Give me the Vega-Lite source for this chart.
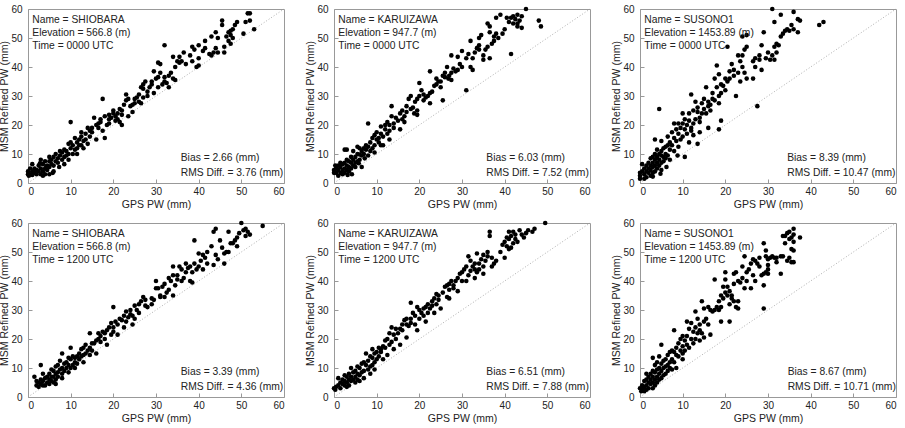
{
  "$schema": "https://vega.github.io/schema/vega-lite/v6.json",
  "padding": {"left": -1, "top": 3, "right": 0, "bottom": 0},
  "background": "white",
  "config": {
    "font": "Liberation Sans",
    "view": {"stroke": "#999", "strokeWidth": 1},
    "axis": {
      "domain": false, "grid": false,
      "tickColor": "#999", "tickSize": -4, "tickWidth": 1,
      "labelFont": "Liberation Sans", "labelFontSize": 10, "labelColor": "#222",
      "titleFont": "Liberation Sans", "titleFontSize": 10.5, "titleFontWeight": "normal", "titleColor": "#222",
      "values": [0, 10, 20, 30, 40, 50, 60]
    },
    "axisX": {"labelPadding": 7, "titlePadding": 3.5},
    "axisY": {"labelPadding": 10, "titlePadding": 1},
    "point": {"filled": true, "shape": "circle", "size": 21, "color": "black", "opacity": 1},
    "rule": {"color": "#999", "strokeWidth": 0.8, "strokeDash": [1, 2]},
    "text": {"align": "left", "baseline": "top", "lineBreak": "\n", "fontSize": 10.3, "color": "#222"}
  },
  "data": {"values": [
    {"p":1,"top":"Name = SHIOBARA\nElevation = 566.8 (m)\nTime = 0000 UTC","stat":"Bias = 2.66 (mm)\nRMS Diff. = 3.76 (mm)"},
    {"p":2,"top":"Name = KARUIZAWA\nElevation = 947.7 (m)\nTime = 0000 UTC","stat":"Bias = 6.03 (mm)\nRMS Diff. = 7.52 (mm)"},
    {"p":3,"top":"Name = SUSONO1\nElevation = 1453.89 (m)\nTime = 0000 UTC","stat":"Bias = 8.39 (mm)\nRMS Diff. = 10.47 (mm)"},
    {"p":4,"top":"Name = SHIOBARA\nElevation = 566.8 (m)\nTime = 1200 UTC","stat":"Bias = 3.39 (mm)\nRMS Diff. = 4.36 (mm)"},
    {"p":5,"top":"Name = KARUIZAWA\nElevation = 947.7 (m)\nTime = 1200 UTC","stat":"Bias = 6.51 (mm)\nRMS Diff. = 7.88 (mm)"},
    {"p":6,"top":"Name = SUSONO1\nElevation = 1453.89 (m)\nTime = 1200 UTC","stat":"Bias = 8.67 (mm)\nRMS Diff. = 10.71 (mm)"},

    {"p":1,"g":52,"m":58.5},{"p":1,"g":51.5,"m":58.5},{"p":1,"g":52,"m":56},{"p":1,"g":51,"m":55.5},{"p":1,"g":53,"m":53},{"p":1,"g":50.5,"m":51.5},{"p":1,"g":49,"m":55.5},{"p":1,"g":48.5,"m":54.5},{"p":1,"g":48,"m":53},{"p":1,"g":47.5,"m":52.5},{"p":1,"g":47,"m":52},{"p":1,"g":47.5,"m":51},{"p":1,"g":48,"m":50},{"p":1,"g":47,"m":49},{"p":1,"g":47.5,"m":48},{"p":1,"g":46.5,"m":50.5},{"p":1,"g":46,"m":47},{"p":1,"g":46,"m":45},{"p":1,"g":45.5,"m":56},{"p":1,"g":45.5,"m":54.5},{"p":1,"g":44,"m":52},{"p":1,"g":44.5,"m":50},{"p":1,"g":43,"m":50.5},{"p":1,"g":44,"m":46.5},{"p":1,"g":43.5,"m":45},{"p":1,"g":44.5,"m":45},{"p":1,"g":42.5,"m":44.5},{"p":1,"g":43,"m":44},{"p":1,"g":41.5,"m":49},{"p":1,"g":41,"m":45.5},{"p":1,"g":41.5,"m":46.5},{"p":1,"g":40,"m":47.5},{"p":1,"g":40,"m":43},{"p":1,"g":40,"m":40.5},{"p":1,"g":39.5,"m":40},{"p":1,"g":38.5,"m":42},{"p":1,"g":38,"m":44},{"p":1,"g":38.5,"m":47},{"p":1,"g":39,"m":46},{"p":1,"g":36.5,"m":45},{"p":1,"g":35.5,"m":43.5},{"p":1,"g":35.5,"m":41.5},{"p":1,"g":35,"m":42},{"p":1,"g":34,"m":43.5},{"p":1,"g":34.5,"m":40},{"p":1,"g":34,"m":36},{"p":1,"g":34.5,"m":35.5},{"p":1,"g":33,"m":37},{"p":1,"g":33,"m":33},{"p":1,"g":32,"m":47.5},{"p":1,"g":32,"m":36.5},{"p":1,"g":32,"m":35},{"p":1,"g":31,"m":41},{"p":1,"g":30.5,"m":41.5},{"p":1,"g":31,"m":38},{"p":1,"g":30.5,"m":36.5},{"p":1,"g":30,"m":36},{"p":1,"g":30.5,"m":33},{"p":1,"g":29.5,"m":38.5},{"p":1,"g":29,"m":35},{"p":1,"g":29,"m":34},{"p":1,"g":28.5,"m":33},{"p":1,"g":28,"m":31.5},{"p":1,"g":27.5,"m":35},{"p":1,"g":27,"m":34},{"p":1,"g":27,"m":32.5},{"p":1,"g":27,"m":29.5},{"p":1,"g":26.5,"m":33},{"p":1,"g":26,"m":30.5},{"p":1,"g":26,"m":28},{"p":1,"g":25.5,"m":29.5},{"p":1,"g":25,"m":29},{"p":1,"g":25,"m":27.5},{"p":1,"g":24.5,"m":27},{"p":1,"g":24,"m":26.5},{"p":1,"g":23,"m":30.5},{"p":1,"g":23.5,"m":29},{"p":1,"g":23,"m":28.5},{"p":1,"g":22.5,"m":27},{"p":1,"g":22,"m":25},{"p":1,"g":22,"m":23.5},{"p":1,"g":21.5,"m":25.5},{"p":1,"g":21,"m":24},{"p":1,"g":21,"m":22},{"p":1,"g":20.5,"m":23},{"p":1,"g":20,"m":25},{"p":1,"g":20.5,"m":21.5},{"p":1,"g":20,"m":24},{"p":1,"g":19.5,"m":22.5},{"p":1,"g":19,"m":23.5},{"p":1,"g":19,"m":22},{"p":1,"g":18.5,"m":20},{"p":1,"g":18,"m":23},{"p":1,"g":17.5,"m":29},{"p":1,"g":17,"m":21},{"p":1,"g":17,"m":22},{"p":1,"g":16.5,"m":20.5},{"p":1,"g":16,"m":20},{"p":1,"g":16.5,"m":19},{"p":1,"g":15.5,"m":22.5},{"p":1,"g":15,"m":19},{"p":1,"g":15,"m":17.5},{"p":1,"g":14.5,"m":18},{"p":1,"g":14.5,"m":16},{"p":1,"g":14,"m":19},{"p":1,"g":13.5,"m":15},{"p":1,"g":13.5,"m":17},{"p":1,"g":13,"m":14.5},{"p":1,"g":12.5,"m":17.5},{"p":1,"g":12.5,"m":16},{"p":1,"g":12.5,"m":13},{"p":1,"g":12,"m":15},{"p":1,"g":12,"m":13},{"p":1,"g":11.5,"m":14},{"p":1,"g":11.5,"m":12},{"p":1,"g":11,"m":11.5},{"p":1,"g":11,"m":15.5},{"p":1,"g":10.5,"m":13},{"p":1,"g":10,"m":21},{"p":1,"g":10,"m":14},{"p":1,"g":10,"m":12},{"p":1,"g":9.5,"m":10},{"p":1,"g":9.5,"m":13.5},{"p":1,"g":9,"m":11},{"p":1,"g":9,"m":9.5},{"p":1,"g":8.5,"m":11.5},{"p":1,"g":8.5,"m":9},{"p":1,"g":8,"m":10.5},{"p":1,"g":8,"m":8},{"p":1,"g":7.5,"m":11},{"p":1,"g":7.5,"m":9.5},{"p":1,"g":7,"m":8.5},{"p":1,"g":7,"m":7},{"p":1,"g":6.5,"m":10},{"p":1,"g":6.5,"m":7.5},{"p":1,"g":6,"m":9},{"p":1,"g":6,"m":6},{"p":1,"g":6,"m":4},{"p":1,"g":5.5,"m":8},{"p":1,"g":5.5,"m":6.5},{"p":1,"g":5,"m":7.5},{"p":1,"g":5,"m":5.5},{"p":1,"g":5,"m":9},{"p":1,"g":4.5,"m":6},{"p":1,"g":4.5,"m":4.5},{"p":1,"g":4,"m":7.5},{"p":1,"g":4,"m":5},{"p":1,"g":4,"m":3},{"p":1,"g":3.5,"m":6.5},{"p":1,"g":3.5,"m":4},{"p":1,"g":3,"m":5},{"p":1,"g":3,"m":3},{"p":1,"g":3,"m":8},{"p":1,"g":2.5,"m":6},{"p":1,"g":2.5,"m":4},{"p":1,"g":2,"m":4.5},{"p":1,"g":2,"m":3},{"p":1,"g":1.5,"m":5},{"p":1,"g":1.5,"m":3.5},{"p":1,"g":1,"m":6.5},{"p":1,"g":1,"m":4},{"p":1,"g":0.5,"m":5},{"p":1,"g":0.5,"m":3},{"p":1,"g":0,"m":4},{"p":1,"g":0,"m":3},{"p":1,"g":0.2,"m":2.5},{"p":1,"g":1,"m":2.8},{"p":1,"g":3.5,"m":2.5},{"p":1,"g":5,"m":3},{"p":1,"g":5.8,"m":3.5},{"p":1,"g":22,"m":20},{"p":1,"g":18,"m":15.5},{"p":1,"g":26.5,"m":27.5},{"p":1,"g":33.5,"m":38},{"p":1,"g":36,"m":42},{"p":1,"g":37,"m":41},{"p":1,"g":10.5,"m":10},{"p":1,"g":13,"m":12},{"p":1,"g":14,"m":13.5},{"p":1,"g":16,"m":15},{"p":1,"g":17.5,"m":18},{"p":1,"g":19,"m":20.5},{"p":1,"g":21.5,"m":21},{"p":1,"g":23.5,"m":23},{"p":1,"g":24.5,"m":24.5},{"p":1,"g":28,"m":30},{"p":1,"g":29.5,"m":31},{"p":1,"g":31.5,"m":34},{"p":1,"g":32.5,"m":34.5},{"p":1,"g":7.3,"m":5.5},{"p":1,"g":8.5,"m":6.5},{"p":1,"g":9.5,"m":8},{"p":1,"g":11.5,"m":10},{"p":1,"g":4.3,"m":5.8},{"p":1,"g":2.8,"m":6.8},{"p":1,"g":1.8,"m":4.5},

    {"p":2,"g":45,"m":60},{"p":2,"g":43,"m":58},{"p":2,"g":42,"m":57.5},{"p":2,"g":42.5,"m":56.5},{"p":2,"g":44,"m":57.5},{"p":2,"g":41.5,"m":57},{"p":2,"g":40.5,"m":57},{"p":2,"g":41,"m":55.5},{"p":2,"g":42,"m":55},{"p":2,"g":43,"m":55},{"p":2,"g":43.5,"m":56},{"p":2,"g":43,"m":54},{"p":2,"g":44,"m":53.5},{"p":2,"g":48,"m":56},{"p":2,"g":48.5,"m":54},{"p":2,"g":41.5,"m":44.5},{"p":2,"g":39,"m":58},{"p":2,"g":38,"m":57},{"p":2,"g":40,"m":53},{"p":2,"g":39.5,"m":51.5},{"p":2,"g":38.5,"m":50},{"p":2,"g":38,"m":51.5},{"p":2,"g":37.5,"m":49},{"p":2,"g":37,"m":48},{"p":2,"g":36.5,"m":52},{"p":2,"g":36.5,"m":54},{"p":2,"g":36,"m":55},{"p":2,"g":36,"m":47},{"p":2,"g":35.5,"m":46},{"p":2,"g":35,"m":44},{"p":2,"g":35,"m":42.5},{"p":2,"g":34.5,"m":51},{"p":2,"g":34,"m":50},{"p":2,"g":34,"m":47.5},{"p":2,"g":33.5,"m":46.5},{"p":2,"g":33,"m":45},{"p":2,"g":32.5,"m":43},{"p":2,"g":32.5,"m":39},{"p":2,"g":32,"m":40},{"p":2,"g":32,"m":49},{"p":2,"g":31.5,"m":44.5},{"p":2,"g":31,"m":43},{"p":2,"g":31,"m":32},{"p":2,"g":30,"m":45.5},{"p":2,"g":30,"m":40},{"p":2,"g":29.5,"m":41},{"p":2,"g":29,"m":43.5},{"p":2,"g":29,"m":39},{"p":2,"g":28.5,"m":38.5},{"p":2,"g":28,"m":39.5},{"p":2,"g":27.5,"m":44},{"p":2,"g":27.5,"m":38},{"p":2,"g":27,"m":37},{"p":2,"g":26.5,"m":40},{"p":2,"g":26,"m":36.5},{"p":2,"g":26,"m":38},{"p":2,"g":25.5,"m":37},{"p":2,"g":25,"m":35},{"p":2,"g":25,"m":33},{"p":2,"g":24.5,"m":35},{"p":2,"g":24,"m":36},{"p":2,"g":24,"m":34},{"p":2,"g":23.5,"m":33.5},{"p":2,"g":23,"m":31.5},{"p":2,"g":22.5,"m":38.5},{"p":2,"g":22.5,"m":31},{"p":2,"g":22,"m":30},{"p":2,"g":21.5,"m":29.5},{"p":2,"g":21,"m":30.5},{"p":2,"g":21,"m":28.5},{"p":2,"g":20.5,"m":32},{"p":2,"g":20,"m":34.5},{"p":2,"g":20,"m":30},{"p":2,"g":19.5,"m":23.5},{"p":2,"g":19.5,"m":29},{"p":2,"g":19,"m":28},{"p":2,"g":18.5,"m":26},{"p":2,"g":18,"m":25.5},{"p":2,"g":18,"m":30},{"p":2,"g":17.5,"m":29},{"p":2,"g":17,"m":24.5},{"p":2,"g":17,"m":26.5},{"p":2,"g":16.5,"m":23},{"p":2,"g":16,"m":25},{"p":2,"g":16,"m":22},{"p":2,"g":15.5,"m":24},{"p":2,"g":15,"m":21.5},{"p":2,"g":14.5,"m":22.5},{"p":2,"g":14,"m":20.5},{"p":2,"g":14,"m":19},{"p":2,"g":13.5,"m":26.5},{"p":2,"g":13.5,"m":23},{"p":2,"g":13,"m":20},{"p":2,"g":13,"m":18},{"p":2,"g":12.5,"m":21},{"p":2,"g":12.5,"m":17},{"p":2,"g":12,"m":20},{"p":2,"g":12,"m":18.5},{"p":2,"g":11.5,"m":16},{"p":2,"g":11.5,"m":13},{"p":2,"g":11,"m":19.5},{"p":2,"g":11,"m":17},{"p":2,"g":10.5,"m":15.5},{"p":2,"g":10.5,"m":14},{"p":2,"g":10,"m":15},{"p":2,"g":10,"m":17.5},{"p":2,"g":9.5,"m":16.5},{"p":2,"g":9.5,"m":13},{"p":2,"g":9,"m":15.5},{"p":2,"g":9,"m":12},{"p":2,"g":8.5,"m":14},{"p":2,"g":8.5,"m":11},{"p":2,"g":8,"m":20.5},{"p":2,"g":8,"m":12.5},{"p":2,"g":7.5,"m":13},{"p":2,"g":7.5,"m":11.5},{"p":2,"g":7,"m":10},{"p":2,"g":7,"m":12},{"p":2,"g":6.5,"m":9.5},{"p":2,"g":6.5,"m":11},{"p":2,"g":6,"m":12},{"p":2,"g":6,"m":8},{"p":2,"g":5.5,"m":12.5},{"p":2,"g":5.5,"m":10},{"p":2,"g":5.5,"m":7.5},{"p":2,"g":5,"m":9},{"p":2,"g":5,"m":7},{"p":2,"g":5,"m":5.5},{"p":2,"g":4.5,"m":11},{"p":2,"g":4.5,"m":8},{"p":2,"g":4.5,"m":6},{"p":2,"g":4,"m":9},{"p":2,"g":4,"m":7},{"p":2,"g":4,"m":5},{"p":2,"g":3.5,"m":7.5},{"p":2,"g":3.5,"m":5.5},{"p":2,"g":3.5,"m":4},{"p":2,"g":3,"m":11.5},{"p":2,"g":3,"m":8},{"p":2,"g":3,"m":6},{"p":2,"g":3,"m":4.5},{"p":2,"g":2.5,"m":11.5},{"p":2,"g":2.5,"m":7},{"p":2,"g":2.5,"m":5},{"p":2,"g":2.5,"m":3.5},{"p":2,"g":2,"m":6.5},{"p":2,"g":2,"m":4.5},{"p":2,"g":2,"m":3},{"p":2,"g":1.5,"m":7},{"p":2,"g":1.5,"m":5.5},{"p":2,"g":1.5,"m":3.5},{"p":2,"g":1,"m":6},{"p":2,"g":1,"m":4.5},{"p":2,"g":1,"m":2.5},{"p":2,"g":0.5,"m":5},{"p":2,"g":0.5,"m":3.5},{"p":2,"g":0,"m":4.5},{"p":2,"g":0,"m":3.5},{"p":2,"g":0.3,"m":6},{"p":2,"g":6.5,"m":5.5},{"p":2,"g":5.8,"m":6.8},{"p":2,"g":4.2,"m":3},{"p":2,"g":3.2,"m":2.8},{"p":2,"g":19.5,"m":25},{"p":2,"g":25.5,"m":28.5},{"p":2,"g":36.5,"m":43},{"p":2,"g":15.5,"m":18.5},{"p":2,"g":13,"m":15},{"p":2,"g":11,"m":13},{"p":2,"g":9.5,"m":10.5},{"p":2,"g":8,"m":9.5},{"p":2,"g":22.5,"m":27.5},{"p":2,"g":27.5,"m":35.5},{"p":2,"g":34,"m":46},{"p":2,"g":37.5,"m":50.5},{"p":2,"g":26.8,"m":36},{"p":2,"g":18.8,"m":24},{"p":2,"g":16.5,"m":21},{"p":2,"g":7.2,"m":8.5},{"p":2,"g":6,"m":9.8},

    {"p":3,"g":31,"m":60},{"p":3,"g":36,"m":59},{"p":3,"g":33,"m":58},{"p":3,"g":37,"m":56.5},{"p":3,"g":37.5,"m":56},{"p":3,"g":31.5,"m":55.5},{"p":3,"g":35.5,"m":54.5},{"p":3,"g":34.5,"m":53},{"p":3,"g":35,"m":52.5},{"p":3,"g":36,"m":53},{"p":3,"g":34,"m":52.5},{"p":3,"g":37,"m":52},{"p":3,"g":33.5,"m":51.5},{"p":3,"g":33,"m":50.5},{"p":3,"g":42,"m":54.5},{"p":3,"g":43,"m":55.5},{"p":3,"g":32,"m":48},{"p":3,"g":32.5,"m":47.5},{"p":3,"g":31.5,"m":47},{"p":3,"g":32,"m":45},{"p":3,"g":31,"m":44},{"p":3,"g":30,"m":45},{"p":3,"g":29,"m":52},{"p":3,"g":28.5,"m":47.5},{"p":3,"g":29.5,"m":43},{"p":3,"g":28,"m":44},{"p":3,"g":27,"m":43},{"p":3,"g":26.5,"m":42},{"p":3,"g":28,"m":42.5},{"p":3,"g":30.5,"m":42.5},{"p":3,"g":27,"m":40},{"p":3,"g":27.5,"m":26.5},{"p":3,"g":25,"m":51},{"p":3,"g":24,"m":50.5},{"p":3,"g":25,"m":47},{"p":3,"g":24.5,"m":46},{"p":3,"g":24,"m":44},{"p":3,"g":23.5,"m":42},{"p":3,"g":24,"m":40},{"p":3,"g":24.5,"m":38},{"p":3,"g":25,"m":36},{"p":3,"g":23,"m":44},{"p":3,"g":23.5,"m":35},{"p":3,"g":23,"m":38},{"p":3,"g":22,"m":37},{"p":3,"g":22,"m":39},{"p":3,"g":21.5,"m":41},{"p":3,"g":20.5,"m":47},{"p":3,"g":21,"m":36},{"p":3,"g":21,"m":38.5},{"p":3,"g":20.5,"m":35},{"p":3,"g":20,"m":36},{"p":3,"g":20,"m":32},{"p":3,"g":19.5,"m":33.5},{"p":3,"g":19,"m":34},{"p":3,"g":19,"m":31},{"p":3,"g":18.5,"m":37.5},{"p":3,"g":18.5,"m":30},{"p":3,"g":18,"m":40.5},{"p":3,"g":18,"m":33},{"p":3,"g":17.5,"m":36},{"p":3,"g":17.5,"m":28.5},{"p":3,"g":18.5,"m":27.5},{"p":3,"g":17,"m":31},{"p":3,"g":17,"m":29},{"p":3,"g":16.5,"m":27},{"p":3,"g":16.5,"m":25},{"p":3,"g":16,"m":28},{"p":3,"g":16,"m":26.5},{"p":3,"g":15.5,"m":24},{"p":3,"g":15.5,"m":33},{"p":3,"g":15,"m":29},{"p":3,"g":15,"m":25.5},{"p":3,"g":14.5,"m":24},{"p":3,"g":14.5,"m":27.5},{"p":3,"g":14,"m":22.5},{"p":3,"g":14,"m":21},{"p":3,"g":13.5,"m":26},{"p":3,"g":13.5,"m":24.5},{"p":3,"g":13,"m":28},{"p":3,"g":13,"m":22},{"p":3,"g":12.5,"m":25},{"p":3,"g":12.5,"m":20.5},{"p":3,"g":12,"m":30.5},{"p":3,"g":12,"m":19},{"p":3,"g":12,"m":18},{"p":3,"g":11.5,"m":21.5},{"p":3,"g":11.5,"m":24},{"p":3,"g":11,"m":20},{"p":3,"g":11,"m":17},{"p":3,"g":10.5,"m":22},{"p":3,"g":10.5,"m":18.5},{"p":3,"g":10,"m":24},{"p":3,"g":10,"m":20.5},{"p":3,"g":10,"m":16},{"p":3,"g":9.5,"m":19},{"p":3,"g":9.5,"m":15},{"p":3,"g":9,"m":20.5},{"p":3,"g":9,"m":17},{"p":3,"g":9,"m":12.5},{"p":3,"g":8.5,"m":18.5},{"p":3,"g":8.5,"m":14.5},{"p":3,"g":8,"m":20.5},{"p":3,"g":8,"m":15.5},{"p":3,"g":8,"m":11},{"p":3,"g":7.5,"m":17.5},{"p":3,"g":7.5,"m":13},{"p":3,"g":7,"m":14},{"p":3,"g":7,"m":11.5},{"p":3,"g":7,"m":8},{"p":3,"g":6.5,"m":16},{"p":3,"g":6.5,"m":13},{"p":3,"g":6.5,"m":9.5},{"p":3,"g":6,"m":12.5},{"p":3,"g":6,"m":10},{"p":3,"g":6,"m":8.5},{"p":3,"g":5.5,"m":12},{"p":3,"g":5.5,"m":9},{"p":3,"g":5.5,"m":7.5},{"p":3,"g":5,"m":14.5},{"p":3,"g":5,"m":11},{"p":3,"g":5,"m":9.5},{"p":3,"g":5,"m":7},{"p":3,"g":5,"m":4.5},{"p":3,"g":4.5,"m":25.5},{"p":3,"g":4.5,"m":10},{"p":3,"g":4.5,"m":8},{"p":3,"g":4.5,"m":6},{"p":3,"g":4,"m":11.5},{"p":3,"g":4,"m":9},{"p":3,"g":4,"m":7},{"p":3,"g":4,"m":5},{"p":3,"g":3.5,"m":15},{"p":3,"g":3.5,"m":10},{"p":3,"g":3.5,"m":8},{"p":3,"g":3.5,"m":6},{"p":3,"g":3.5,"m":4},{"p":3,"g":3,"m":9},{"p":3,"g":3,"m":7},{"p":3,"g":3,"m":5.5},{"p":3,"g":3,"m":3.5},{"p":3,"g":2.5,"m":8.5},{"p":3,"g":2.5,"m":6},{"p":3,"g":2.5,"m":4.5},{"p":3,"g":2.5,"m":2.5},{"p":3,"g":2,"m":7},{"p":3,"g":2,"m":5},{"p":3,"g":2,"m":3.5},{"p":3,"g":1.5,"m":6},{"p":3,"g":1.5,"m":4},{"p":3,"g":1.5,"m":2},{"p":3,"g":1,"m":5},{"p":3,"g":1,"m":3},{"p":3,"g":1,"m":1.5},{"p":3,"g":0.5,"m":6.5},{"p":3,"g":0.5,"m":4},{"p":3,"g":0,"m":3.5},{"p":3,"g":0,"m":2.5},{"p":3,"g":0,"m":1.5},{"p":3,"g":10.5,"m":9},{"p":3,"g":18.5,"m":18.5},{"p":3,"g":11.5,"m":14},{"p":3,"g":13.5,"m":13.5},{"p":3,"g":8.8,"m":9.5},{"p":3,"g":6.2,"m":5.5},{"p":3,"g":4.8,"m":3.2},{"p":3,"g":3,"m":2.2},{"p":3,"g":16,"m":19},{"p":3,"g":19,"m":21.5},{"p":3,"g":22.5,"m":30},{"p":3,"g":26.5,"m":36},{"p":3,"g":28.5,"m":39},{"p":3,"g":31.5,"m":42.5},{"p":3,"g":14,"m":17.5},{"p":3,"g":12.5,"m":16.5},

    {"p":4,"g":50,"m":60},{"p":4,"g":51,"m":58},{"p":4,"g":50.5,"m":57.5},{"p":4,"g":51.5,"m":57},{"p":4,"g":52,"m":56},{"p":4,"g":51,"m":55.5},{"p":4,"g":55,"m":59},{"p":4,"g":49.5,"m":56.5},{"p":4,"g":49,"m":55},{"p":4,"g":48.5,"m":54},{"p":4,"g":48,"m":53},{"p":4,"g":49,"m":52},{"p":4,"g":47,"m":57},{"p":4,"g":47.5,"m":53},{"p":4,"g":47,"m":50},{"p":4,"g":46.5,"m":50},{"p":4,"g":46,"m":49.5},{"p":4,"g":45.5,"m":51.5},{"p":4,"g":46,"m":46},{"p":4,"g":44,"m":58},{"p":4,"g":43.5,"m":57},{"p":4,"g":43,"m":52},{"p":4,"g":44,"m":49},{"p":4,"g":44.5,"m":47.5},{"p":4,"g":45,"m":54},{"p":4,"g":42,"m":50},{"p":4,"g":42,"m":46},{"p":4,"g":41.5,"m":48},{"p":4,"g":41,"m":49},{"p":4,"g":40.5,"m":47},{"p":4,"g":40,"m":49.5},{"p":4,"g":40,"m":45},{"p":4,"g":39.5,"m":44},{"p":4,"g":39,"m":46},{"p":4,"g":39,"m":54},{"p":4,"g":38.5,"m":43},{"p":4,"g":38,"m":45},{"p":4,"g":38,"m":40},{"p":4,"g":37.5,"m":44.5},{"p":4,"g":37,"m":46},{"p":4,"g":37,"m":43},{"p":4,"g":36.5,"m":41},{"p":4,"g":36,"m":44},{"p":4,"g":35.5,"m":45},{"p":4,"g":35,"m":42},{"p":4,"g":35,"m":40.5},{"p":4,"g":34.5,"m":38.5},{"p":4,"g":34,"m":45},{"p":4,"g":34,"m":42},{"p":4,"g":34,"m":35},{"p":4,"g":33.5,"m":40},{"p":4,"g":33,"m":37},{"p":4,"g":33,"m":41},{"p":4,"g":32.5,"m":36},{"p":4,"g":32,"m":39},{"p":4,"g":32,"m":34.5},{"p":4,"g":31.5,"m":38},{"p":4,"g":31,"m":35},{"p":4,"g":30.5,"m":37.5},{"p":4,"g":30,"m":40},{"p":4,"g":30,"m":37.5},{"p":4,"g":29.5,"m":33.5},{"p":4,"g":29,"m":34},{"p":4,"g":28,"m":31},{"p":4,"g":27.5,"m":33.5},{"p":4,"g":27,"m":34.5},{"p":4,"g":26.5,"m":33},{"p":4,"g":26,"m":32},{"p":4,"g":26,"m":29},{"p":4,"g":25.5,"m":30},{"p":4,"g":25,"m":31.5},{"p":4,"g":24.5,"m":28},{"p":4,"g":24.5,"m":25},{"p":4,"g":24,"m":28.5},{"p":4,"g":24,"m":30},{"p":4,"g":23.5,"m":27.5},{"p":4,"g":23,"m":29.5},{"p":4,"g":23,"m":26},{"p":4,"g":22.5,"m":28},{"p":4,"g":22,"m":26.5},{"p":4,"g":21.5,"m":27},{"p":4,"g":21,"m":25},{"p":4,"g":20.5,"m":26},{"p":4,"g":20,"m":31},{"p":4,"g":20,"m":24},{"p":4,"g":20,"m":22.5},{"p":4,"g":19.5,"m":25.5},{"p":4,"g":19.5,"m":21.5},{"p":4,"g":19,"m":24},{"p":4,"g":18.5,"m":23},{"p":4,"g":18,"m":22},{"p":4,"g":18,"m":20},{"p":4,"g":17.5,"m":22.5},{"p":4,"g":17,"m":21},{"p":4,"g":17,"m":19},{"p":4,"g":16.5,"m":22},{"p":4,"g":16.5,"m":20},{"p":4,"g":16,"m":19.5},{"p":4,"g":15.5,"m":18.5},{"p":4,"g":15,"m":18.5},{"p":4,"g":15,"m":16},{"p":4,"g":14.5,"m":22},{"p":4,"g":14.5,"m":17},{"p":4,"g":14,"m":16},{"p":4,"g":13.5,"m":18},{"p":4,"g":13.5,"m":15},{"p":4,"g":13,"m":17},{"p":4,"g":13,"m":14.5},{"p":4,"g":12.5,"m":16.5},{"p":4,"g":12.5,"m":14},{"p":4,"g":12,"m":13},{"p":4,"g":12,"m":15},{"p":4,"g":11.5,"m":14},{"p":4,"g":11.5,"m":11.5},{"p":4,"g":11,"m":13.5},{"p":4,"g":11,"m":12},{"p":4,"g":10.5,"m":14},{"p":4,"g":10.5,"m":11},{"p":4,"g":10,"m":17},{"p":4,"g":10,"m":13},{"p":4,"g":10,"m":10},{"p":4,"g":9.5,"m":13.5},{"p":4,"g":9.5,"m":11},{"p":4,"g":9,"m":12},{"p":4,"g":9,"m":10},{"p":4,"g":8.5,"m":11.5},{"p":4,"g":8.5,"m":9},{"p":4,"g":8,"m":15},{"p":4,"g":8,"m":10},{"p":4,"g":8,"m":8},{"p":4,"g":7.5,"m":12.5},{"p":4,"g":7.5,"m":9.5},{"p":4,"g":7,"m":11},{"p":4,"g":7,"m":8.5},{"p":4,"g":7,"m":7},{"p":4,"g":6.5,"m":10.5},{"p":4,"g":6.5,"m":8},{"p":4,"g":6.5,"m":6},{"p":4,"g":6,"m":9},{"p":4,"g":6,"m":7},{"p":4,"g":6,"m":5},{"p":4,"g":5.5,"m":9.5},{"p":4,"g":5.5,"m":7},{"p":4,"g":5.5,"m":5.5},{"p":4,"g":5,"m":8},{"p":4,"g":5,"m":6},{"p":4,"g":5,"m":4.5},{"p":4,"g":4.5,"m":7},{"p":4,"g":4.5,"m":5},{"p":4,"g":4,"m":6.5},{"p":4,"g":4,"m":4},{"p":4,"g":3.5,"m":8},{"p":4,"g":3.5,"m":5.5},{"p":4,"g":3.5,"m":4},{"p":4,"g":3,"m":11},{"p":4,"g":3,"m":6},{"p":4,"g":3,"m":4.5},{"p":4,"g":2.5,"m":5},{"p":4,"g":2.5,"m":3.5},{"p":4,"g":2,"m":4},{"p":4,"g":1.5,"m":7},{"p":4,"g":2,"m":5.5},{"p":4,"g":6.5,"m":4.5},{"p":4,"g":8,"m":6.5},{"p":4,"g":9.5,"m":8.5},{"p":4,"g":11,"m":10},{"p":4,"g":13,"m":12},{"p":4,"g":14.5,"m":14.5},{"p":4,"g":16,"m":15},{"p":4,"g":18.5,"m":18},{"p":4,"g":21,"m":21.5},{"p":4,"g":22.5,"m":24},{"p":4,"g":25,"m":27},{"p":4,"g":27.5,"m":31.5},{"p":4,"g":29,"m":32},{"p":4,"g":31,"m":34.5},{"p":4,"g":36,"m":40},{"p":4,"g":41,"m":44},{"p":4,"g":43.5,"m":45.5},{"p":4,"g":38.5,"m":39.5},

    {"p":5,"g":49.5,"m":60},{"p":5,"g":47,"m":58},{"p":5,"g":46.5,"m":57},{"p":5,"g":45.5,"m":57.5},{"p":5,"g":45,"m":56.5},{"p":5,"g":44,"m":56},{"p":5,"g":43.5,"m":57.5},{"p":5,"g":42.5,"m":56},{"p":5,"g":42,"m":57},{"p":5,"g":41.5,"m":55.5},{"p":5,"g":41,"m":57},{"p":5,"g":41,"m":54.5},{"p":5,"g":40.5,"m":55},{"p":5,"g":40,"m":53.5},{"p":5,"g":40.5,"m":52},{"p":5,"g":41,"m":51},{"p":5,"g":39.5,"m":52.5},{"p":5,"g":42,"m":53},{"p":5,"g":42.5,"m":54.5},{"p":5,"g":43,"m":53.5},{"p":5,"g":44.5,"m":55},{"p":5,"g":40,"m":48},{"p":5,"g":41.5,"m":51.5},{"p":5,"g":39,"m":50},{"p":5,"g":37.5,"m":46},{"p":5,"g":38,"m":47},{"p":5,"g":37,"m":48},{"p":5,"g":36.5,"m":57},{"p":5,"g":36.5,"m":55.5},{"p":5,"g":36,"m":50},{"p":5,"g":36,"m":48.5},{"p":5,"g":35.5,"m":47},{"p":5,"g":35,"m":49},{"p":5,"g":35,"m":45},{"p":5,"g":34.5,"m":47.5},{"p":5,"g":34,"m":46},{"p":5,"g":34,"m":44},{"p":5,"g":33.5,"m":49.5},{"p":5,"g":33.5,"m":43},{"p":5,"g":33,"m":46},{"p":5,"g":33,"m":44},{"p":5,"g":32.5,"m":45},{"p":5,"g":32,"m":47},{"p":5,"g":32,"m":43.5},{"p":5,"g":31.5,"m":48.5},{"p":5,"g":31.5,"m":42},{"p":5,"g":31,"m":45},{"p":5,"g":30.5,"m":44},{"p":5,"g":30,"m":43},{"p":5,"g":30,"m":40},{"p":5,"g":29.5,"m":42.5},{"p":5,"g":29,"m":41},{"p":5,"g":28.5,"m":40},{"p":5,"g":28,"m":37.5},{"p":5,"g":28,"m":38.5},{"p":5,"g":27.5,"m":40},{"p":5,"g":27,"m":39},{"p":5,"g":27,"m":37},{"p":5,"g":26.5,"m":38.5},{"p":5,"g":26.5,"m":34.5},{"p":5,"g":26,"m":38},{"p":5,"g":25.5,"m":36},{"p":5,"g":24.5,"m":35},{"p":5,"g":24.5,"m":33.5},{"p":5,"g":24,"m":35.5},{"p":5,"g":24,"m":32},{"p":5,"g":23.5,"m":34},{"p":5,"g":23,"m":31.5},{"p":5,"g":23,"m":33},{"p":5,"g":22.5,"m":30.5},{"p":5,"g":22,"m":32},{"p":5,"g":22,"m":29},{"p":5,"g":21.5,"m":31},{"p":5,"g":21,"m":30.5},{"p":5,"g":21,"m":28},{"p":5,"g":20.5,"m":29},{"p":5,"g":20,"m":27},{"p":5,"g":20,"m":30},{"p":5,"g":19.5,"m":31},{"p":5,"g":19,"m":28},{"p":5,"g":19,"m":25},{"p":5,"g":18.5,"m":29},{"p":5,"g":18,"m":32.5},{"p":5,"g":18,"m":27},{"p":5,"g":18,"m":25.5},{"p":5,"g":17.5,"m":24.5},{"p":5,"g":17,"m":27},{"p":5,"g":17,"m":25},{"p":5,"g":16.5,"m":26.5},{"p":5,"g":16,"m":25},{"p":5,"g":16,"m":23},{"p":5,"g":15.5,"m":23.5},{"p":5,"g":15,"m":22},{"p":5,"g":14.5,"m":23.5},{"p":5,"g":14.5,"m":20},{"p":5,"g":14,"m":21.5},{"p":5,"g":13.5,"m":24},{"p":5,"g":13.5,"m":19},{"p":5,"g":13,"m":22},{"p":5,"g":13,"m":18},{"p":5,"g":12.5,"m":20},{"p":5,"g":12,"m":19.5},{"p":5,"g":12,"m":17},{"p":5,"g":11.5,"m":17.5},{"p":5,"g":11,"m":16.5},{"p":5,"g":11,"m":15.5},{"p":5,"g":10.5,"m":17},{"p":5,"g":10.5,"m":14},{"p":5,"g":10,"m":15.5},{"p":5,"g":10,"m":13},{"p":5,"g":9.5,"m":15},{"p":5,"g":9.5,"m":12},{"p":5,"g":9,"m":16.5},{"p":5,"g":9,"m":13.5},{"p":5,"g":9,"m":11},{"p":5,"g":8.5,"m":14},{"p":5,"g":8.5,"m":10.5},{"p":5,"g":8,"m":12.5},{"p":5,"g":8,"m":9.5},{"p":5,"g":7.5,"m":15},{"p":5,"g":7.5,"m":11},{"p":5,"g":7,"m":12},{"p":5,"g":7,"m":9},{"p":5,"g":6.5,"m":11.5},{"p":5,"g":6.5,"m":8.5},{"p":5,"g":6,"m":10},{"p":5,"g":6,"m":7.5},{"p":5,"g":5.5,"m":10.5},{"p":5,"g":5.5,"m":8},{"p":5,"g":5.5,"m":6},{"p":5,"g":5,"m":9},{"p":5,"g":5,"m":7},{"p":5,"g":5,"m":5},{"p":5,"g":4.5,"m":8.5},{"p":5,"g":4.5,"m":6},{"p":5,"g":4,"m":10},{"p":5,"g":4,"m":7},{"p":5,"g":4,"m":5.5},{"p":5,"g":3.5,"m":8},{"p":5,"g":3.5,"m":6},{"p":5,"g":3.5,"m":4},{"p":5,"g":3,"m":7},{"p":5,"g":3,"m":5},{"p":5,"g":3,"m":3.5},{"p":5,"g":2.5,"m":7.5},{"p":5,"g":2.5,"m":5.5},{"p":5,"g":2.5,"m":4},{"p":5,"g":2,"m":6},{"p":5,"g":2,"m":4.5},{"p":5,"g":1.5,"m":5},{"p":5,"g":1.5,"m":3},{"p":5,"g":1,"m":6.5},{"p":5,"g":1,"m":4},{"p":5,"g":0.5,"m":3.5},{"p":5,"g":0,"m":3},{"p":5,"g":0.3,"m":2.5},{"p":5,"g":6,"m":5.5},{"p":5,"g":7,"m":6.5},{"p":5,"g":8.5,"m":8},{"p":5,"g":11.5,"m":13},{"p":5,"g":14,"m":16.5},{"p":5,"g":15.5,"m":18},{"p":5,"g":17,"m":20.5},{"p":5,"g":19.5,"m":23},{"p":5,"g":21.5,"m":26},{"p":5,"g":23.5,"m":29},{"p":5,"g":25,"m":30.5},{"p":5,"g":27,"m":34},{"p":5,"g":29,"m":36.5},{"p":5,"g":31,"m":40},{"p":5,"g":33,"m":41},{"p":5,"g":35,"m":42.5},{"p":5,"g":37,"m":45},{"p":5,"g":9.5,"m":9.5},{"p":5,"g":12.5,"m":14.5},

    {"p":6,"g":36,"m":58},{"p":6,"g":35,"m":57},{"p":6,"g":34.5,"m":56.5},{"p":6,"g":36,"m":56},{"p":6,"g":37.5,"m":55},{"p":6,"g":35.5,"m":55},{"p":6,"g":34,"m":55.5},{"p":6,"g":33.5,"m":55.5},{"p":6,"g":35,"m":54.5},{"p":6,"g":36,"m":53.5},{"p":6,"g":34,"m":53},{"p":6,"g":35.5,"m":51},{"p":6,"g":36,"m":50.5},{"p":6,"g":35,"m":48},{"p":6,"g":34.5,"m":47},{"p":6,"g":35.5,"m":46.5},{"p":6,"g":36,"m":46.5},{"p":6,"g":33.5,"m":48.5},{"p":6,"g":33,"m":48.5},{"p":6,"g":32,"m":48},{"p":6,"g":31.5,"m":48},{"p":6,"g":31,"m":48.5},{"p":6,"g":30.5,"m":48},{"p":6,"g":30,"m":47.5},{"p":6,"g":29.5,"m":48.5},{"p":6,"g":29,"m":53},{"p":6,"g":29.5,"m":50.5},{"p":6,"g":30,"m":45.5},{"p":6,"g":30,"m":44},{"p":6,"g":29.5,"m":43},{"p":6,"g":29,"m":42.5},{"p":6,"g":28.5,"m":42},{"p":6,"g":30,"m":42.5},{"p":6,"g":33,"m":42.5},{"p":6,"g":29,"m":38.5},{"p":6,"g":29,"m":30.5},{"p":6,"g":28,"m":48},{"p":6,"g":27,"m":47},{"p":6,"g":26.5,"m":47.5},{"p":6,"g":27.5,"m":46},{"p":6,"g":26,"m":46},{"p":6,"g":25.5,"m":44},{"p":6,"g":25,"m":43},{"p":6,"g":26.5,"m":42},{"p":6,"g":25,"m":40},{"p":6,"g":24.5,"m":48.5},{"p":6,"g":24,"m":45},{"p":6,"g":24,"m":41},{"p":6,"g":23.5,"m":39.5},{"p":6,"g":23,"m":40},{"p":6,"g":24.5,"m":37.5},{"p":6,"g":22.5,"m":43},{"p":6,"g":22,"m":42.5},{"p":6,"g":22,"m":39},{"p":6,"g":21.5,"m":35},{"p":6,"g":21.5,"m":34},{"p":6,"g":22,"m":33},{"p":6,"g":22.5,"m":31},{"p":6,"g":23,"m":30.5},{"p":6,"g":21,"m":36.5},{"p":6,"g":21,"m":32},{"p":6,"g":20.5,"m":38},{"p":6,"g":20.5,"m":35},{"p":6,"g":20,"m":43},{"p":6,"g":20,"m":40.5},{"p":6,"g":20,"m":36},{"p":6,"g":19.5,"m":38},{"p":6,"g":19.5,"m":34},{"p":6,"g":19,"m":35},{"p":6,"g":19,"m":31},{"p":6,"g":18.5,"m":33},{"p":6,"g":18.5,"m":30},{"p":6,"g":18,"m":31},{"p":6,"g":17.5,"m":40.5},{"p":6,"g":17.5,"m":30},{"p":6,"g":17,"m":29.5},{"p":6,"g":16.5,"m":30},{"p":6,"g":16,"m":31},{"p":6,"g":16,"m":25},{"p":6,"g":15.5,"m":27},{"p":6,"g":15,"m":30.5},{"p":6,"g":15,"m":26},{"p":6,"g":15,"m":20.5},{"p":6,"g":14.5,"m":33},{"p":6,"g":14.5,"m":22},{"p":6,"g":14,"m":25},{"p":6,"g":14,"m":23},{"p":6,"g":14,"m":19.5},{"p":6,"g":13.5,"m":22},{"p":6,"g":13.5,"m":27},{"p":6,"g":13,"m":29.5},{"p":6,"g":13,"m":24},{"p":6,"g":13,"m":20},{"p":6,"g":12.5,"m":22.5},{"p":6,"g":12,"m":25.5},{"p":6,"g":12,"m":20},{"p":6,"g":11.5,"m":23.5},{"p":6,"g":11.5,"m":17},{"p":6,"g":11,"m":26},{"p":6,"g":11,"m":21},{"p":6,"g":11,"m":18},{"p":6,"g":10.5,"m":19.5},{"p":6,"g":10.5,"m":16},{"p":6,"g":10,"m":21},{"p":6,"g":10,"m":17.5},{"p":6,"g":10,"m":15},{"p":6,"g":9.5,"m":20},{"p":6,"g":9.5,"m":16},{"p":6,"g":9,"m":18.5},{"p":6,"g":9,"m":14},{"p":6,"g":8.5,"m":17},{"p":6,"g":8.5,"m":14.5},{"p":6,"g":8,"m":23},{"p":6,"g":8,"m":15.5},{"p":6,"g":8,"m":12},{"p":6,"g":7.5,"m":16},{"p":6,"g":7.5,"m":13},{"p":6,"g":7,"m":15.5},{"p":6,"g":7,"m":12},{"p":6,"g":7,"m":10},{"p":6,"g":6.5,"m":14.5},{"p":6,"g":6.5,"m":11},{"p":6,"g":6.5,"m":9},{"p":6,"g":6,"m":13},{"p":6,"g":6,"m":10.5},{"p":6,"g":6,"m":8},{"p":6,"g":5.5,"m":12.5},{"p":6,"g":5.5,"m":10},{"p":6,"g":5.5,"m":7.5},{"p":6,"g":5,"m":18},{"p":6,"g":5,"m":11.5},{"p":6,"g":5,"m":9},{"p":6,"g":5,"m":6.5},{"p":6,"g":4.5,"m":14},{"p":6,"g":4.5,"m":10},{"p":6,"g":4.5,"m":8},{"p":6,"g":4.5,"m":6},{"p":6,"g":4,"m":12},{"p":6,"g":4,"m":9.5},{"p":6,"g":4,"m":7},{"p":6,"g":4,"m":5},{"p":6,"g":3.5,"m":11},{"p":6,"g":3.5,"m":8.5},{"p":6,"g":3.5,"m":6},{"p":6,"g":3.5,"m":4},{"p":6,"g":3,"m":13.5},{"p":6,"g":3,"m":9},{"p":6,"g":3,"m":7},{"p":6,"g":3,"m":5},{"p":6,"g":3,"m":3},{"p":6,"g":2.5,"m":8},{"p":6,"g":2.5,"m":6},{"p":6,"g":2.5,"m":4.5},{"p":6,"g":2,"m":7},{"p":6,"g":2,"m":5},{"p":6,"g":2,"m":3},{"p":6,"g":1.5,"m":8},{"p":6,"g":1.5,"m":6},{"p":6,"g":1.5,"m":4},{"p":6,"g":1.5,"m":2.5},{"p":6,"g":1,"m":5.5},{"p":6,"g":1,"m":3.5},{"p":6,"g":1,"m":2},{"p":6,"g":0.5,"m":4},{"p":6,"g":0.5,"m":3},{"p":6,"g":0,"m":3},{"p":6,"g":0.3,"m":2},{"p":6,"g":7.5,"m":9.5},{"p":6,"g":8.5,"m":10},{"p":6,"g":10,"m":13},{"p":6,"g":12.5,"m":18.5},{"p":6,"g":16.5,"m":21.5},{"p":6,"g":19,"m":26},{"p":6,"g":21,"m":26},{"p":6,"g":23,"m":33},{"p":6,"g":26,"m":37.5},{"p":6,"g":27,"m":40},{"p":6,"g":28,"m":45},{"p":6,"g":32,"m":46.5}
  ]},
  "columns": 3,
  "spacing": {"row": 40, "column": 50},
  "bounds": "flush",
  "concat": [
    {"width": 256, "height": 174, "transform": [{"filter": "datum.p == 1"}], "layer": [
      {"transform": [{"filter": "isValid(datum.top)"}], "mark": "rule", "encoding": {"x": {"datum": 0, "type": "quantitative"}, "y": {"datum": 0, "type": "quantitative"}, "x2": {"datum": 60}, "y2": {"datum": 60}}},
      {"transform": [{"filter": "isValid(datum.g)"}], "mark": "point", "encoding": {
        "x": {"field": "g", "type": "quantitative", "title": "GPS PW (mm)", "scale": {"domain": [0, 60], "nice": false}},
        "y": {"field": "m", "type": "quantitative", "title": "MSM Refined PW (mm)", "scale": {"domain": [0, 60], "nice": false}}}},
      {"transform": [{"filter": "isValid(datum.top)"}], "mark": {"type": "text", "lineHeight": 13.4}, "encoding": {"x": {"datum": 1, "type": "quantitative"}, "y": {"datum": 58.1, "type": "quantitative"}, "text": {"field": "top"}}},
      {"transform": [{"filter": "isValid(datum.stat)"}], "mark": {"type": "text", "lineHeight": 14.4}, "encoding": {"x": {"datum": 35.8, "type": "quantitative"}, "y": {"datum": 10.2, "type": "quantitative"}, "text": {"field": "stat"}}}
    ]},
    {"width": 256, "height": 174, "transform": [{"filter": "datum.p == 2"}], "layer": [
      {"transform": [{"filter": "isValid(datum.top)"}], "mark": "rule", "encoding": {"x": {"datum": 0, "type": "quantitative"}, "y": {"datum": 0, "type": "quantitative"}, "x2": {"datum": 60}, "y2": {"datum": 60}}},
      {"transform": [{"filter": "isValid(datum.g)"}], "mark": "point", "encoding": {
        "x": {"field": "g", "type": "quantitative", "title": "GPS PW (mm)", "scale": {"domain": [0, 60], "nice": false}},
        "y": {"field": "m", "type": "quantitative", "title": "MSM Refined PW (mm)", "scale": {"domain": [0, 60], "nice": false}}}},
      {"transform": [{"filter": "isValid(datum.top)"}], "mark": {"type": "text", "lineHeight": 13.4}, "encoding": {"x": {"datum": 1, "type": "quantitative"}, "y": {"datum": 58.1, "type": "quantitative"}, "text": {"field": "top"}}},
      {"transform": [{"filter": "isValid(datum.stat)"}], "mark": {"type": "text", "lineHeight": 14.4}, "encoding": {"x": {"datum": 35.7, "type": "quantitative"}, "y": {"datum": 10.2, "type": "quantitative"}, "text": {"field": "stat"}}}
    ]},
    {"width": 256, "height": 174, "transform": [{"filter": "datum.p == 3"}], "layer": [
      {"transform": [{"filter": "isValid(datum.top)"}], "mark": "rule", "encoding": {"x": {"datum": 0, "type": "quantitative"}, "y": {"datum": 0, "type": "quantitative"}, "x2": {"datum": 60}, "y2": {"datum": 60}}},
      {"transform": [{"filter": "isValid(datum.g)"}], "mark": "point", "encoding": {
        "x": {"field": "g", "type": "quantitative", "title": "GPS PW (mm)", "scale": {"domain": [0, 60], "nice": false}},
        "y": {"field": "m", "type": "quantitative", "title": "MSM Refined PW (mm)", "scale": {"domain": [0, 60], "nice": false}}}},
      {"transform": [{"filter": "isValid(datum.top)"}], "mark": {"type": "text", "lineHeight": 13.4}, "encoding": {"x": {"datum": 1, "type": "quantitative"}, "y": {"datum": 58.1, "type": "quantitative"}, "text": {"field": "top"}}},
      {"transform": [{"filter": "isValid(datum.stat)"}], "mark": {"type": "text", "lineHeight": 14.4}, "encoding": {"x": {"datum": 34.5, "type": "quantitative"}, "y": {"datum": 10.2, "type": "quantitative"}, "text": {"field": "stat"}}}
    ]},
    {"width": 256, "height": 174, "transform": [{"filter": "datum.p == 4"}], "layer": [
      {"transform": [{"filter": "isValid(datum.top)"}], "mark": "rule", "encoding": {"x": {"datum": 0, "type": "quantitative"}, "y": {"datum": 0, "type": "quantitative"}, "x2": {"datum": 60}, "y2": {"datum": 60}}},
      {"transform": [{"filter": "isValid(datum.g)"}], "mark": "point", "encoding": {
        "x": {"field": "g", "type": "quantitative", "title": "GPS PW (mm)", "scale": {"domain": [0, 60], "nice": false}},
        "y": {"field": "m", "type": "quantitative", "title": "MSM Refined PW (mm)", "scale": {"domain": [0, 60], "nice": false}}}},
      {"transform": [{"filter": "isValid(datum.top)"}], "mark": {"type": "text", "lineHeight": 13.4}, "encoding": {"x": {"datum": 1, "type": "quantitative"}, "y": {"datum": 58.1, "type": "quantitative"}, "text": {"field": "top"}}},
      {"transform": [{"filter": "isValid(datum.stat)"}], "mark": {"type": "text", "lineHeight": 14.4}, "encoding": {"x": {"datum": 35.8, "type": "quantitative"}, "y": {"datum": 10.2, "type": "quantitative"}, "text": {"field": "stat"}}}
    ]},
    {"width": 256, "height": 174, "transform": [{"filter": "datum.p == 5"}], "layer": [
      {"transform": [{"filter": "isValid(datum.top)"}], "mark": "rule", "encoding": {"x": {"datum": 0, "type": "quantitative"}, "y": {"datum": 0, "type": "quantitative"}, "x2": {"datum": 60}, "y2": {"datum": 60}}},
      {"transform": [{"filter": "isValid(datum.g)"}], "mark": "point", "encoding": {
        "x": {"field": "g", "type": "quantitative", "title": "GPS PW (mm)", "scale": {"domain": [0, 60], "nice": false}},
        "y": {"field": "m", "type": "quantitative", "title": "MSM Refined PW (mm)", "scale": {"domain": [0, 60], "nice": false}}}},
      {"transform": [{"filter": "isValid(datum.top)"}], "mark": {"type": "text", "lineHeight": 13.4}, "encoding": {"x": {"datum": 1, "type": "quantitative"}, "y": {"datum": 58.1, "type": "quantitative"}, "text": {"field": "top"}}},
      {"transform": [{"filter": "isValid(datum.stat)"}], "mark": {"type": "text", "lineHeight": 14.4}, "encoding": {"x": {"datum": 35.7, "type": "quantitative"}, "y": {"datum": 10.2, "type": "quantitative"}, "text": {"field": "stat"}}}
    ]},
    {"width": 256, "height": 174, "transform": [{"filter": "datum.p == 6"}], "layer": [
      {"transform": [{"filter": "isValid(datum.top)"}], "mark": "rule", "encoding": {"x": {"datum": 0, "type": "quantitative"}, "y": {"datum": 0, "type": "quantitative"}, "x2": {"datum": 60}, "y2": {"datum": 60}}},
      {"transform": [{"filter": "isValid(datum.g)"}], "mark": "point", "encoding": {
        "x": {"field": "g", "type": "quantitative", "title": "GPS PW (mm)", "scale": {"domain": [0, 60], "nice": false}},
        "y": {"field": "m", "type": "quantitative", "title": "MSM Refined PW (mm)", "scale": {"domain": [0, 60], "nice": false}}}},
      {"transform": [{"filter": "isValid(datum.top)"}], "mark": {"type": "text", "lineHeight": 13.4}, "encoding": {"x": {"datum": 1, "type": "quantitative"}, "y": {"datum": 58.1, "type": "quantitative"}, "text": {"field": "top"}}},
      {"transform": [{"filter": "isValid(datum.stat)"}], "mark": {"type": "text", "lineHeight": 14.4}, "encoding": {"x": {"datum": 34.6, "type": "quantitative"}, "y": {"datum": 10.2, "type": "quantitative"}, "text": {"field": "stat"}}}
    ]}
  ]
}
